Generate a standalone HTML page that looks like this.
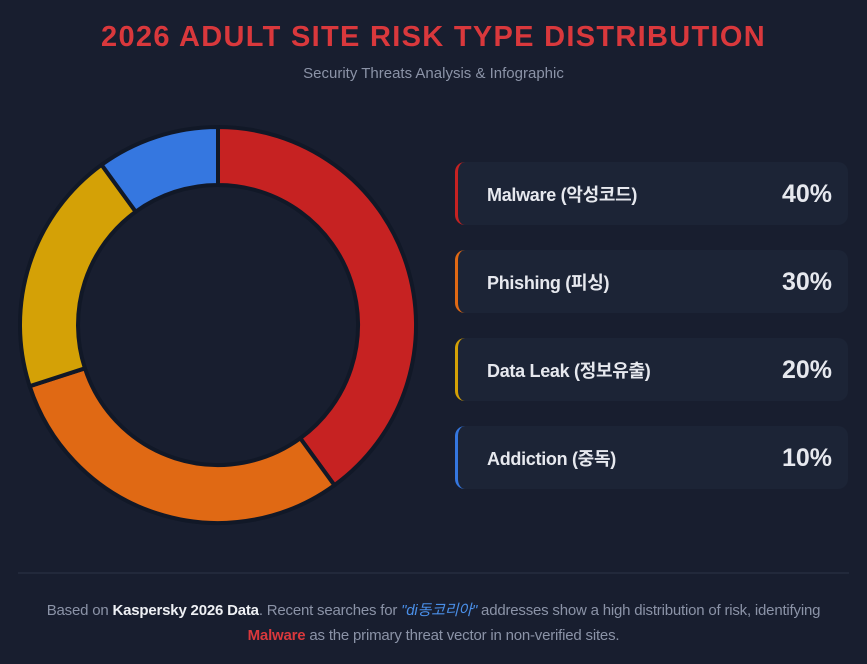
<!DOCTYPE html>
<html><head><meta charset="utf-8"><style>
body{margin:0;width:867px;height:664px;background:#181e2f;font-family:"Liberation Sans","Noto Sans CJK KR",sans-serif;position:relative;overflow:hidden}
.t{position:absolute;left:0;width:867px;text-align:center}
.card{position:absolute;left:455px;width:393px;height:63px;background:#1c2436;border-radius:10px;border-left:3px solid;box-sizing:border-box}
.card .n{position:absolute;left:29px;top:19px;font-size:18px;font-weight:bold;color:#e6e8ee;letter-spacing:-0.3px}
.card .p{position:absolute;right:16px;top:18px;font-size:25px;font-weight:bold;color:#e6e8ee}
</style></head><body>
<div class="t" style="top:21px;font-size:29px;font-weight:bold;color:#d9383c;letter-spacing:1.3px">2026 ADULT SITE RISK TYPE DISTRIBUTION</div>
<div class="t" style="top:65px;font-size:15px;color:#8b93a7">Security Threats Analysis &amp; Infographic</div>
<svg style="position:absolute;left:0;top:0" width="867" height="664">
<g stroke="#111827" stroke-width="4" stroke-linejoin="round">
<path d="M218 127 A198 198 0 0 1 334.4 485.2 L300.3 438.3 A140 140 0 0 0 218 185 Z" fill="#c62222"/>
<path d="M334.4 485.2 A198 198 0 0 1 29.7 386.2 L84.9 368.3 A140 140 0 0 0 300.3 438.3 Z" fill="#e06914"/>
<path d="M29.7 386.2 A198 198 0 0 1 101.6 164.8 L135.7 211.7 A140 140 0 0 0 84.9 368.3 Z" fill="#d4a106"/>
<path d="M101.6 164.8 A198 198 0 0 1 218 127 L218 185 A140 140 0 0 0 135.7 211.7 Z" fill="#3577e0"/>
</g>
<line x1="18" y1="573" x2="849" y2="573" stroke="#2c3447" stroke-width="1"/>
</svg>
<div class="card" style="top:162px;border-color:#c62222"><span class="n">Malware (악성코드)</span><span class="p">40%</span></div>
<div class="card" style="top:250px;border-color:#e06914"><span class="n">Phishing (피싱)</span><span class="p">30%</span></div>
<div class="card" style="top:338px;border-color:#d4a106"><span class="n">Data Leak (정보유출)</span><span class="p">20%</span></div>
<div class="card" style="top:426px;border-color:#3577e0"><span class="n">Addiction (중독)</span><span class="p">10%</span></div>
<div class="t" style="top:598px;font-size:15px;line-height:25px;color:#8b93a7;letter-spacing:-0.2px">Based on <b style="color:#eef0f4">Kaspersky 2026 Data</b>. Recent searches for <i style="color:#4a8fe8">"di동코리아"</i> addresses show a high distribution of risk, identifying<br><b style="color:#d9383c">Malware</b> as the primary threat vector in non-verified sites.</div>
</body></html>
